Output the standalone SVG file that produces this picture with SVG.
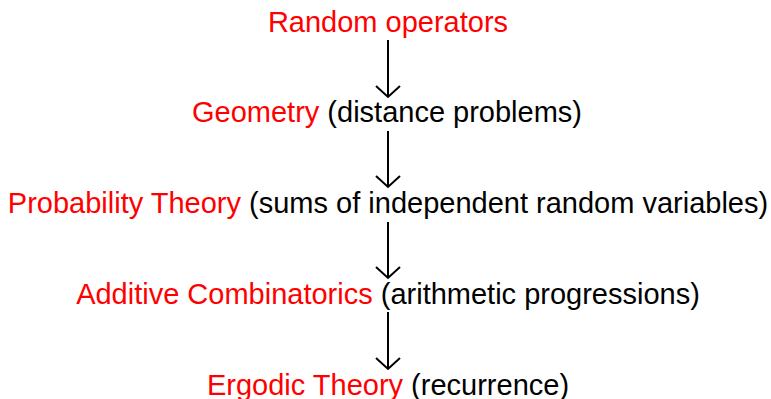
<svg xmlns="http://www.w3.org/2000/svg" width="771" height="399" viewBox="0 0 771 399">
<style>
text{font-family:"Liberation Sans",Arial,sans-serif;font-size:29px;text-anchor:middle;fill:#000}
.r{fill:#ff0000}
.c line,.c path{stroke:#000;stroke-width:2;fill:none}
</style>
<rect width="771" height="399" fill="#fff"/>
<g id="n1"><text x="388" y="32"><tspan class="r">Random operators</tspan></text></g>
<g id="n2"><text x="387" y="122"><tspan class="r">Geometry</tspan> (distance problems)</text></g>
<g id="n3"><text x="388" y="213"><tspan class="r">Probability Theory</tspan> (sums of independent random variables)</text></g>
<g id="n4"><text x="388" y="304"><tspan class="r">Additive Combinatorics</tspan> (arithmetic progressions)</text></g>
<g id="n5"><text x="388" y="395"><tspan class="r">Ergodic Theory</tspan> (recurrence)</text></g>
<g class="c" id="connectors">
<line x1="388" y1="40" x2="388" y2="97"/><path d="M376 86 L388 97 L400 86"/>
<line x1="388" y1="131" x2="388" y2="187"/><path d="M376 176 L388 187 L400 176"/>
<line x1="388" y1="222" x2="388" y2="278"/><path d="M376 267 L388 278 L400 267"/>
<line x1="388" y1="312" x2="388" y2="369"/><path d="M376 358 L388 369 L400 358"/>
</g>
</svg>
